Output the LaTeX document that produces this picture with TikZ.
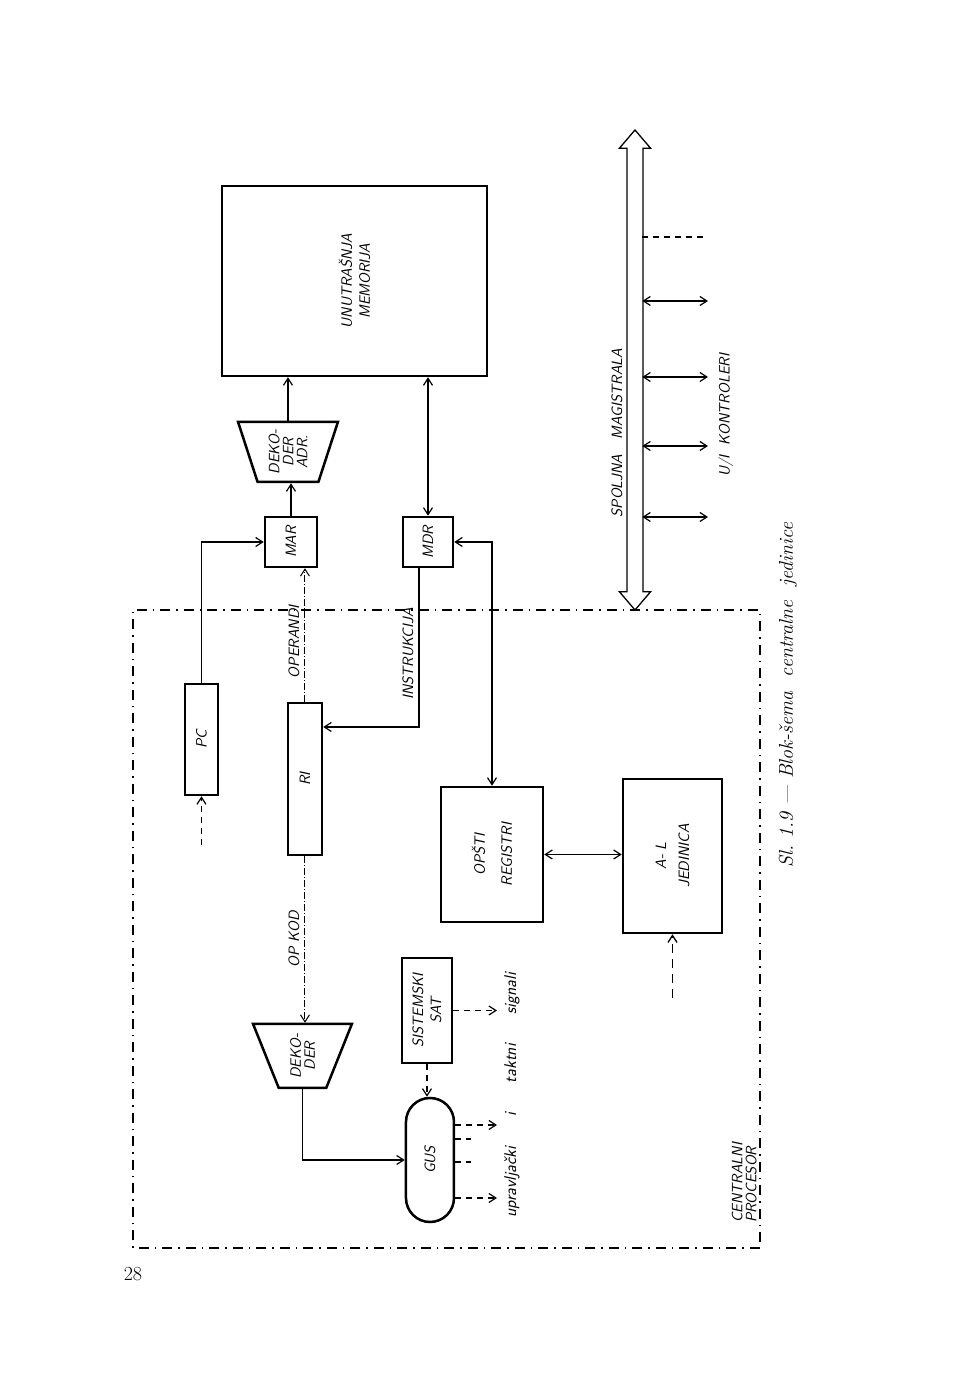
\documentclass[tikz,border=0pt]{standalone}
\usepackage{amsmath}
\usetikzlibrary{arrows.meta,calc}
\usetikzlibrary{shapes.geometric,shapes.misc,shapes.arrows}

\newcommand\lbl{\fontsize{15}{14}\selectfont\sffamily\slshape}

\begin{document}
\begin{tikzpicture}[
    rotate=90, transform shape,
    x=1pt, y=1pt,
    >={Straight Barb[length=7pt,width=9pt]},
    box/.style={draw, line width=2.5pt, align=center, font=\lbl, inner sep=0pt},
    trap/.style={
        draw, line width=2.5pt,
        trapezium,
        trapezium stretches=true,
        shape border rotate=90,
        align=center, font=\lbl, inner sep=0pt
    },
    wire/.style={line width=1.2pt},
    sig/.style={line width=1.2pt, dash pattern=on 6pt off 5pt},
    dd/.style={line width=1pt, dash pattern=on 7pt off 2pt on 1pt off 2pt},
    cpbox/.style={line width=1.2pt, dash pattern=on 10pt off 6pt on 1.5pt off 6pt},
    small/.style={font=\lbl, inner sep=0pt},
]
\useasboundingbox (0,0) rectangle (1386,973);

% memorija i magistrala
\node[box, minimum width=190, minimum height=265] (mem) at (1105,618.5) {UNUTRAŠNJA\\[4pt]MEMORIJA};
\node[double arrow, draw, line width=1.3pt, minimum width=30, minimum height=480,
      double arrow head extend=7.7pt, double arrow tip angle=81,
      inner xsep=0pt, inner ysep=7.3pt] (bus) at (1016,338) {};
\node[small] (spm) at (953,356) {SPOLJNA\quad MAGISTRALA};
\node[small] (uik) at (971,247) {U/I\ \ KONTROLERI};
\coordinate (ud) at (1149,267);
\coordinate (u1) at (1085,265);
\coordinate (u2) at (1009,265);
\coordinate (u3) at (940,265);
\coordinate (u4) at (869,265);
\draw[sig] ($(bus.center -| ud)+(0,-7.3)$) -- (ud);
\foreach \k in {u1,u2,u3,u4}
    \draw[wire,<->] ($(bus.center -| \k)+(0,-7.3)$) -- (\k);

% adresni put
\node[trap, trapezium left angle=74.6, trapezium right angle=74.6,
      minimum width=100, minimum height=60] (dekadr) at (934,685) {DEKO-\\DER\\ADR.};
\node[box, minimum width=50, minimum height=52] (mar) at (844,682) {MAR};
\node[box, minimum width=50, minimum height=50] (mdr) at (844,545) {MDR};
\node[box, minimum width=111, minimum height=33] (pc) at (646.5,771.5) {PC};
\node[box, minimum width=152, minimum height=34] (ri) at (607,668) {RI};
\coordinate (pcin) at (541,771.5);
\draw[wire,->] (mar.east) -- (mar.east -| dekadr.west);
\draw[wire,->] (dekadr.east) -- (dekadr.east -| mem.west);
\draw[wire,<->] (mdr.east) -- (mdr.east -| mem.west);
\draw[wire,->] (pc.east) -| (mar.north);
\draw[sig,->] (pcin) -- (pc.west);
\draw[dd,->] (ri.east) -- node[small, above=5pt, pos=0.45] {OPERANDI} (ri.east -| mar.west);
\draw[wire,->] ($(mdr.west)+(0,9)$) -| node[small, above=5pt, pos=0.27] {INSTRUKCIJA} ($(ri.south)+(52,0)$);

% registri i A-L jedinica
\node[box, minimum width=135, minimum height=102] (reg) at (531.5,481) {OPŠTI\\[13pt]REGISTRI};
\node[box, minimum width=154, minimum height=99] (alu) at (530,300.5) {A- L\\[9pt]JEDINICA};
\coordinate (alin) at (388,300.5);
\draw[wire,<->] (mdr.south) |- (reg.east);
\draw[wire,<->] (reg.south) -- (reg.south |- alu.north);
\draw[line width=1.3pt, dash pattern=on 9pt off 6pt, ->] (alin) -- (alu.west);

% upravljanje
\node[trap, trapezium left angle=73.5, trapezium right angle=73.5,
      minimum width=99, minimum height=64] (dek) at (330,670.5) {DEKO-\\DER};
\node[box, minimum width=105, minimum height=50] (sat) at (375.5,546) {SISTEMSKI\\[4pt]SAT};
\node[rounded rectangle, draw, line width=2.5pt, font=\lbl, inner sep=0pt,
      minimum width=124, minimum height=48] (gus) at (226,543) {GUS};
\draw[dd,->] (ri.west) -- node[small, above=5pt] {OP KOD} (ri.west -| dek.east);
\draw[wire,->] (dek.west) -| (gus.north);
\draw[sig,->] (sat.west) -- (sat.west -| gus.east);
\coordinate (takt) at (375.5,476);
\coordinate (g1) at (261,476);
\coordinate (g2) at (188,476);
\coordinate (g3) at (247,502);
\coordinate (g4) at (224,502);
\draw[sig,->] (sat.south) -- (takt);
\draw[sig,->] (g1 |- gus.south) -- (g1);
\draw[sig,->] (g2 |- gus.south) -- (g2);
\draw[sig] (g3 |- gus.south) -- (g3);
\draw[sig] (g4 |- gus.south) -- (g4);
\node[small, font=\fontsize{17}{16}\selectfont\sffamily\slshape, anchor=west] (sgn) at (168,461)
    {upravljački\hspace{30pt}i\hspace{30pt}taktni\hspace{30pt}signali};

% centralni procesor
\draw[cpbox] (138,213) rectangle (776,840);
\node[small, anchor=south west, align=left] (cp) at (163,216) {CENTRALNI\\PROCESOR};

% natpis
\node[font=\fontsize{20}{22}\selectfont\itshape] (cap) at (691,185) {Sl.~1.9 --- Blok-šema\ \ centralne\ \ jedinice};
\node[font=\fontsize{20}{22}\selectfont, rotate=-90] (pg) at (112,840) {28};
\end{tikzpicture}
\end{document}
